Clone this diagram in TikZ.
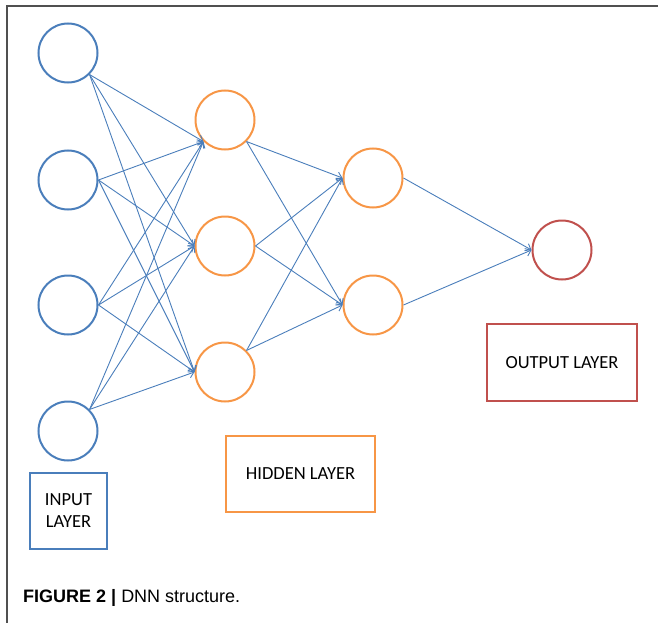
\documentclass[tikz,border=0pt]{standalone}
\usepackage{fontspec}
\setmainfont{Carlito}
\newfontfamily\capfont{Liberation Sans}
\usetikzlibrary{arrows.meta}
\definecolor{nblue}{HTML}{4A7EBB}
\definecolor{norange}{HTML}{F79646}
\definecolor{nred}{HTML}{C0504D}
\definecolor{frame}{HTML}{505050}
\begin{document}
\begin{tikzpicture}[x=1pt,y=-1pt,
  neuron/.style={circle,draw,line width=2pt,minimum size=59pt,inner sep=0pt},
  inn/.style={neuron,draw=nblue},
  hid/.style={neuron,draw=norange},
  outn/.style={neuron,draw=nred},
  lbl/.style={draw,line width=1.8pt,inner sep=0pt,font=\fontsize{18.5}{22}\selectfont,align=center},
  conn/.style={draw=nblue,line width=0.9pt,-{Straight Barb[length=5pt,width=8pt]}}]
\useasboundingbox (0,0) rectangle (658,623);
\draw[frame,line width=1.5pt] (7,623) -- (7,6) -- (658,6);
% input layer
\node[inn] (i1) at (68,53) {};
\node[inn] (i2) at (68,180) {};
\node[inn] (i3) at (68,305) {};
\node[inn] (i4) at (68,431) {};
% hidden layer 1
\node[hid] (a1) at (225,120) {};
\node[hid] (a2) at (225,246) {};
\node[hid] (a3) at (225,372) {};
% hidden layer 2
\node[hid] (b1) at (373,178) {};
\node[hid] (b2) at (373,305) {};
% output
\node[outn] (o) at (562,250) {};
% boxes
\node[lbl,draw=nblue,minimum width=77pt,minimum height=76pt] (ib) at (68.5,511) {INPUT\\LAYER};
\node[lbl,draw=norange,minimum width=149pt,minimum height=76pt] (hb) at (300.5,474) {HIDDEN LAYER};
\node[lbl,draw=nred,minimum width=150pt,minimum height=77pt] (ob) at (562,362.5) {OUTPUT LAYER};
% connectors input -> hidden 1
\foreach \s/\sa in {i1/south east,i2/east,i3/east,i4/north east}{
  \path[conn] (\s.\sa) -- (a1.south west);
  \path[conn] (\s.\sa) -- (a2.west);
  \path[conn] (\s.\sa) -- (a3.west);
}
% hidden 1 -> hidden 2
\foreach \s/\sa in {a1/south east,a2/east,a3/north east}{
  \path[conn] (\s.\sa) -- (b1.west);
  \path[conn] (\s.\sa) -- (b2.west);
}
% hidden 2 -> output
\path[conn] (b1.east) -- (o.west);
\path[conn] (b2.east) -- (o.west);
% caption
\node[anchor=base west,inner sep=0pt,font=\capfont\fontsize{18}{22}\selectfont] (cap) at (23,602) {\textbf{FIGURE 2 |} DNN structure.};
\end{tikzpicture}
\end{document}
